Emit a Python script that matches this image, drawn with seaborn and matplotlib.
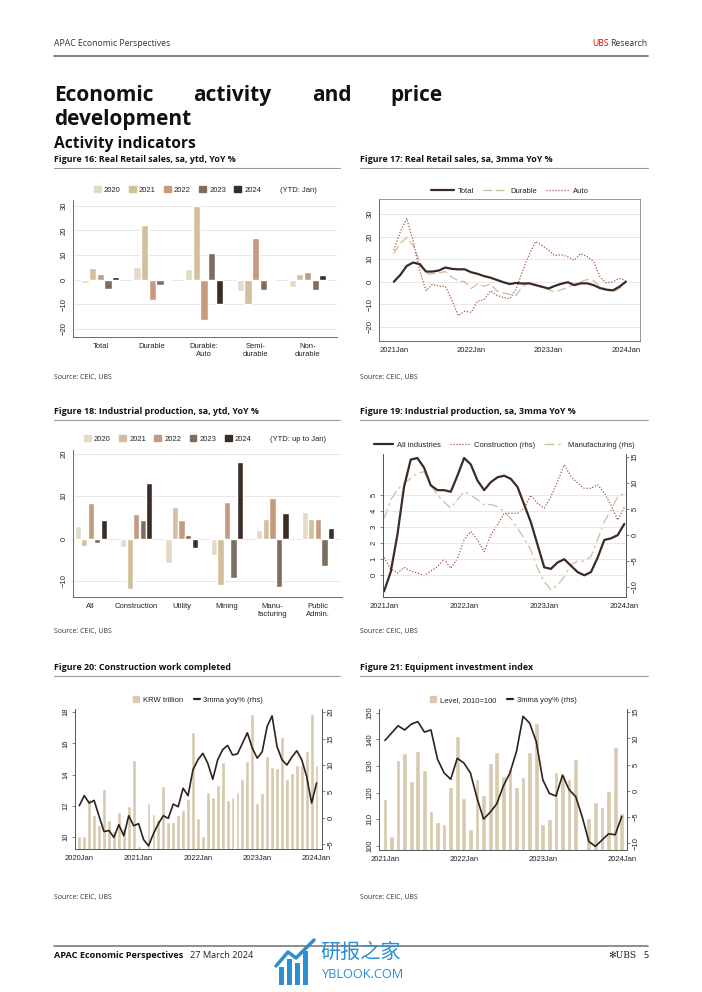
import numpy as np
import pandas as pd
import matplotlib
matplotlib.use("Agg")
import matplotlib.pyplot as plt
from matplotlib.patches import Patch, Rectangle
from matplotlib.lines import Line2D
import seaborn as sns

sns.set_theme(style="white")
plt.rcParams['font.family'] = ['Liberation Sans', 'DejaVu Sans']

# ---------------- data ----------------
years = ["2020", "2021", "2022", "2023", "2024"]

# Figure 16
cats16 = ["Total", "Durable", "Durable:\nAuto", "Semi-\ndurable", "Non-\ndurable"]
rs_2020 = [-1.5, 5.2, 4.5, -4.5, -3.0]
rs_2021 = [4.8, 22.2, 30.0, -10.0, 2.3]
rs_2022 = [2.2, -8.3, -16.5, 17.0, 3.0]
rs_2023 = [-3.8, -2.2, 10.8, -4.2, -4.2]
rs_2024 = [1.0, 0.2, -10.0, 0.4, 2.0]

# Figure 17 (monthly 2021Jan-2024Jan)
m17_labels = ["2021Jan", "2022Jan", "2023Jan", "2024Jan"]
rs_total = [0.0, 3.0, 7.0, 8.5, 7.8, 4.5, 4.5, 5.0, 6.3, 5.7, 5.5, 5.5, 4.2,
            3.5, 2.5, 1.8, 0.8, -0.2, -1.0, -0.5, -0.8, -0.7, -1.5, -2.2, -3.0,
            -1.8, -0.9, -0.2, -1.5, -0.7, -0.7, -1.5, -2.8, -3.5, -3.8, -2.2, 0.0]
rs_durable = [12.5, 17.0, 19.5, 16.0, 9.0, 3.5, 3.5, 4.0, 4.5, 2.0, 0.5, 0.0, -3.0,
              -1.0, -2.0, -1.0, -4.0, -5.0, -5.5, -6.0, -2.0, -0.5, -1.0, -2.5, -3.5,
              -4.5, -3.5, -2.5, -1.0, 0.0, 1.0, 0.5, -2.0, -3.5, -4.5, -3.0, 0.0]
rs_auto = [14.0, 22.0, 28.0, 18.0, 5.0, -4.0, -1.0, -2.0, -2.0, -8.0, -15.0, -13.0, -13.5,
           -8.5, -8.0, -4.0, -6.0, -7.0, -7.5, -3.0, 5.0, 12.0, 17.8, 16.0, 14.0,
           11.5, 12.0, 11.0, 9.5, 12.5, 11.0, 9.0, 2.0, -0.5, 0.0, 1.5, 0.5]

# Figure 18
cats18 = ["All", "Construction", "Utility", "Mining", "Manu-\nfacturing", "Public\nAdmin."]
ip_2020 = [3.0, -2.0, -5.8, -3.8, 2.0, 6.2]
ip_2021 = [-1.8, -12.0, 7.4, -11.0, 4.7, 4.7]
ip_2022 = [8.4, 5.8, 4.4, 8.7, 9.6, 4.6]
ip_2023 = [-1.0, 4.3, 0.8, -9.3, -11.5, -6.5]
ip_2024 = [4.4, 13.0, -2.2, 18.0, 6.0, 2.5]

# Figure 19 (monthly 2021Jan-2024Jan)
ip_all = [-1.0, 0.2, 2.5, 5.5, 7.2, 7.3, 6.7, 5.6, 5.3, 5.3, 5.2, 6.2, 7.3,
          6.9, 5.9, 5.3, 5.8, 6.1, 6.2, 6.0, 5.5, 4.4, 3.3, 1.9, 0.5,
          0.4, 0.8, 1.0, 0.6, 0.2, 0.0, 0.2, 1.1, 2.2, 2.3, 2.5, 3.2]
ip_constr = [-4.4, -6.6, -7.4, -6.3, -7.0, -7.4, -7.9, -7.0, -6.2, -4.7, -6.5, -4.6, -1.0,
             0.6, -1.0, -3.3, -0.1, 1.9, 4.1, 4.1, 4.1, 5.1, 7.6, 6.0, 5.1,
             7.3, 10.2, 13.4, 11.2, 9.9, 8.9, 8.9, 9.6, 8.0, 5.7, 2.8, 5.2]
ip_manuf = [3.1, 6.7, 8.6, 9.9, 10.8, 11.8, 12.1, 9.6, 7.6, 6.3, 5.1, 6.7, 8.3,
            7.6, 6.7, 5.7, 5.8, 5.4, 4.4, 3.1, 1.2, -0.7, -3.0, -6.5, -9.0,
            -10.6, -9.7, -8.1, -5.8, -5.1, -5.1, -4.2, -1.0, 2.5, 4.7, 7.3, 7.9]

# Figure 20 (monthly 2020Jan-2024Jan)
m20_labels = ["2020Jan", "2021Jan", "2022Jan", "2023Jan", "2024Jan"]
cw_level = [10.1, 10.1, 12.45, 11.4, 10.8, 13.1, 11.1, 10.4, 11.6, 10.6, 12.0, 14.95,
            9.45, 9.2, 12.2, 11.5, 11.15, 13.3, 11.0, 11.0, 11.4, 11.75, 12.45, 16.7,
            11.2, 10.1, 12.9, 12.55, 13.35, 14.8, 12.4, 12.6, 12.9, 13.7, 14.9, 17.9,
            12.2, 12.8, 15.2, 14.5, 14.4, 16.4, 13.7, 14.1, 14.6, 14.6, 15.5, 17.9,
            14.6]
cw_yoy = [2.3, 4.2, 2.8, 3.3, 0.3, -2.6, -2.4, -3.7, -1.3, -3.4, 0.4, -1.5,
          -1.1, -4.1, -5.3, -3.0, -1.1, 0.4, -0.1, 2.6, 2.1, 5.6, 4.2, 9.1,
          11.0, 12.2, 10.3, 7.3, 11.0, 12.9, 13.7, 11.9, 12.1, 14.1, 16.1, 13.2,
          11.3, 12.5, 17.3, 19.3, 13.5, 11.0, 10.0, 11.5, 12.7, 11.0, 7.8, 2.8,
          6.6]

# Figure 21 (monthly 2021Jan-2024Jan)
eq_level = [117.6, 103.9, 132.3, 135.0, 124.4, 135.6, 128.5, 113.3, 109.1, 108.1, 122.3, 141.4,
            117.9, 106.3, 125.1, 119.1, 131.0, 135.1, 126.3, 128.9, 122.3, 126.0, 135.4, 146.0,
            108.1, 110.0, 127.8, 126.5, 125.0, 132.6, 99.0, 110.4, 116.4, 114.5, 120.6, 137.3,
            112.3]
eq_yoy = [9.6, 11.0, 12.4, 11.6, 12.7, 13.2, 11.2, 11.6, 6.0, 3.4, 2.2, 6.2,
          5.3, 3.4, -1.4, -5.4, -4.1, -2.5, 0.9, 3.4, 7.5, 14.2, 12.9, 9.4,
          2.1, -0.5, -1.0, 3.0, 0.2, -1.1, -5.0, -9.7, -10.6, -9.4, -8.2, -8.4,
          -4.9]

# ---------------- style ----------------
W, H = 702, 992
fig = plt.figure(figsize=(W / 100, H / 100), dpi=100)
fig.patch.set_facecolor("white")

PAGE = ['Open Sans', 'DejaVu Sans']
year_cols = {"2020": "#e3dac8", "2021": "#d2bf9b", "2022": "#c69b7d",
             "2023": "#7d6e5f", "2024": "#3b2d25"}
DARK = "#3a2b24"
TAN = "#cdbd9e"
RED = "#a5574c"
BARC = "#d7caaf"
FS = 5.5


def add_ax(x0, y0, x1, y1):
    return fig.add_axes([x0 / W, 1 - y1 / H, (x1 - x0) / W, (y1 - y0) / H])


def txt(x, y, s, **kw):
    return fig.text(x / W, 1 - y / H, s, **kw)


def hline(x0, x1, y, color="#888888", lw=0.8):
    fig.add_artist(Line2D([x0 / W, x1 / W], [1 - y / H, 1 - y / H], color=color, lw=lw))


def style(ax, spines=("left", "bottom"), grid=True):
    for k, sp in ax.spines.items():
        sp.set_visible(k in spines)
        sp.set_color("#555555")
        sp.set_linewidth(0.6)
    ax.tick_params(axis="both", labelsize=FS, length=2.5, width=0.5, color="#555555",
                   pad=1.5, labelcolor="#222222", direction="out")
    ax.set_xlabel("")
    ax.set_ylabel("")
    if grid:
        ax.yaxis.grid(True, color="#e4e4e4", linewidth=0.6)
        ax.set_axisbelow(True)
    else:
        ax.grid(False)


def rot_y(ax):
    plt.setp(ax.get_yticklabels(), rotation=90, va="center")


def legend(handles, labels, cx, cy, **kw):
    opts = dict(loc="center", bbox_to_anchor=(cx / W, 1 - cy / H), frameon=False,
                fontsize=FS, ncol=len(handles), borderaxespad=0, borderpad=0)
    opts.update(kw)
    lg = fig.legend(handles, labels, **opts)
    for t in lg.get_texts():
        t.set_color("#222222")
    return lg


# ---------------- page text ----------------
txt(54, 44, "APAC Economic Perspectives", fontsize=6.2, family=PAGE, color="#333333", va="center")
txt(592, 44, "UBS", fontsize=6.2, family=PAGE, color="#e60000", va="center")
txt(647, 44, "Research", fontsize=6.2, family=PAGE, color="#333333", va="center", ha="right")
hline(54, 648, 56, color="#7a7a7a", lw=1.3)

for word, x in [("Economic", 54), ("activity", 193), ("and", 312), ("price", 390)]:
    txt(x, 101, word, fontsize=15, family=PAGE, weight="bold", color="#111111", va="baseline")
txt(54, 125, "development", fontsize=15, family=PAGE, weight="bold", color="#111111", va="baseline")
txt(54, 148, "Activity indicators", fontsize=11.2, family=PAGE, weight="bold", color="#111111", va="baseline")

fig_titles = [(54, 162.5, "Figure 16: Real Retail sales, sa, ytd, YoY %"),
              (360, 162.5, "Figure 17: Real Retail sales, sa, 3mma YoY %"),
              (54, 414, "Figure 18: Industrial production, sa, ytd, YoY %"),
              (360, 414, "Figure 19: Industrial production, sa, 3mma YoY %"),
              (54, 670, "Figure 20: Construction work completed"),
              (360, 670, "Figure 21: Equipment investment index")]
for x, y, s in fig_titles:
    txt(x, y, s, fontsize=6.4, family=PAGE, weight="bold", color="#111111", va="baseline")
    hline(x, x + 288 if x == 360 else 340, y + 5.5, color="#9a9a9a", lw=0.8)

for y in (377, 631, 897):
    for x in (54, 360):
        txt(x, y, "Source: CEIC, UBS", fontsize=5, family=PAGE, color="#333333", va="center")

# footer
hline(54, 648, 946, color="#7a7a7a", lw=1.2)
txt(54, 956, "APAC Economic Perspectives", fontsize=6.6, family=PAGE, weight="bold", color="#111111", va="center")
txt(190, 956, "27 March 2024", fontsize=6.6, family=PAGE, color="#222222", va="center")
txt(636, 956, "✻UBS", fontsize=6.6, family=['DejaVu Serif', 'DejaVu Sans', 'Noto Sans CJK SC'],
    color="#222222", va="center", ha="right")
txt(643, 956, "5", fontsize=6.6, family=PAGE, color="#222222", va="center")
# watermark
BLUE = "#2b8fd2"
for bx, bh in [(279, 18), (287, 26), (295, 22), (303, 34)]:
    fig.add_artist(Rectangle((bx / W, 1 - 985 / H), 5 / W, bh / H, color=BLUE, lw=0))
fig.add_artist(Line2D([276 / W, 288 / W, 296 / W, 314 / W],
                      [1 - 966 / H, 1 - 952 / H, 1 - 958 / H, 1 - 940 / H], color=BLUE, lw=2.5))
txt(320, 952, "研报之家", fontsize=14.5, family=['Noto Sans CJK SC', 'DejaVu Sans'], color=BLUE, va="center")
txt(321, 975, "YBLOOK.COM", fontsize=9.2, family=PAGE, color=BLUE, va="center")

# ---------------- Figure 16 ----------------
ax1 = add_ax(73, 200, 337, 337)
df16 = pd.DataFrame({"cat": cats16 * 5,
                     "year": sum([[y] * 5 for y in years], []),
                     "val": rs_2020 + rs_2021 + rs_2022 + rs_2023 + rs_2024})
sns.barplot(data=df16, x="cat", y="val", hue="year", order=cats16, hue_order=years,
            palette=year_cols, width=0.74, gap=0.05, saturation=1, errorbar=None,
            legend=False, ax=ax1)
style(ax1)
ax1.set_xlim(-0.53, 4.57)
ax1.set_ylim(-23.3, 32.4)
ax1.set_yticks([-20, -10, 0, 10, 20, 30])
rot_y(ax1)
legend([Patch(color=year_cols[y]) for y in years] + [Patch(facecolor="none", edgecolor="none")],
       years + ["(YTD: Jan)"], 205, 190, handlelength=0.9, handleheight=0.9,
       handletextpad=0.4, columnspacing=1.1)

# ---------------- Figure 17 ----------------
ax2 = add_ax(379, 199, 640, 341)
m37 = np.arange(37)
sns.lineplot(x=m37, y=rs_durable, ax=ax2, color=TAN, lw=0.9, linestyle=(0, (7, 3)))
sns.lineplot(x=m37, y=rs_auto, ax=ax2, color=RED, lw=0.9, linestyle=(0, (1, 1.4)))
sns.lineplot(x=m37, y=rs_total, ax=ax2, color=DARK, lw=1.6)
style(ax2, spines=("left", "bottom", "top", "right"))
ax2.spines["top"].set_color("#888888")
ax2.spines["right"].set_color("#888888")
ax2.set_xlim(-2.3, 38.2)
ax2.set_ylim(-26.2, 36.6)
ax2.set_yticks([-20, -10, 0, 10, 20, 30])
ax2.set_xticks([0, 12, 24, 36])
ax2.set_xticklabels(m17_labels)
rot_y(ax2)
legend([Line2D([], [], color=DARK, lw=1.6),
        Line2D([], [], color=TAN, lw=0.9, linestyle=(0, (7, 3))),
        Line2D([], [], color=RED, lw=0.9, linestyle=(0, (1, 1.4)))],
       ["Total", "Durable", "Auto"], 510, 191, handlelength=3.0, handletextpad=0.5,
       columnspacing=1.2)

# ---------------- Figure 18 ----------------
ax3 = add_ax(73, 450, 342, 597)
df18 = pd.DataFrame({"cat": cats18 * 5,
                     "year": sum([[y] * 6 for y in years], []),
                     "val": ip_2020 + ip_2021 + ip_2022 + ip_2023 + ip_2024})
sns.barplot(data=df18, x="cat", y="val", hue="year", order=cats18, hue_order=years,
            palette=year_cols, width=0.72, gap=0.05, saturation=1, errorbar=None,
            legend=False, ax=ax3)
style(ax3)
ax3.set_xlim(-0.39, 5.53)
ax3.set_ylim(-13.8, 20.9)
ax3.set_yticks([-10, 0, 10, 20])
rot_y(ax3)
legend([Patch(color=year_cols[y]) for y in years] + [Patch(facecolor="none", edgecolor="none")],
       years + ["(YTD: up to Jan)"], 205, 439, handlelength=0.9, handleheight=0.9,
       handletextpad=0.4, columnspacing=1.1)

# ---------------- Figure 19 ----------------
ax4 = add_ax(383, 454, 626, 597)
ax4r = ax4.twinx()
sns.lineplot(x=m37, y=ip_manuf, ax=ax4r, color=TAN, lw=0.9, linestyle=(0, (8, 3, 2, 3)))
sns.lineplot(x=m37, y=ip_constr, ax=ax4r, color=RED, lw=0.9, linestyle=(0, (1, 1.4)))
sns.lineplot(x=m37, y=ip_all, ax=ax4, color=DARK, lw=1.6)
ax4.set_zorder(ax4r.get_zorder() + 1)
ax4.patch.set_visible(False)
style(ax4, spines=("left", "bottom", "right"))
style(ax4r, spines=("left", "bottom", "right"), grid=False)
ax4.set_xlim(-0.15, 36.25)
ax4.set_ylim(-1.35, 7.55)
ax4r.set_ylim(-12.0, 15.5)
ax4.set_yticks([0, 1, 2, 3, 4, 5])
ax4r.set_yticks([-10, -5, 0, 5, 10, 15])
ax4.set_xticks([0, 12, 24, 36])
ax4.set_xticklabels(m17_labels)
rot_y(ax4)
rot_y(ax4r)
legend([Line2D([], [], color=DARK, lw=1.6),
        Line2D([], [], color=RED, lw=0.9, linestyle=(0, (1, 1.4))),
        Line2D([], [], color=TAN, lw=0.9, linestyle=(0, (8, 3, 2, 3)))],
       ["All industries", "Construction (rhs)", "Manufacturing (rhs)"], 504, 445,
       handlelength=2.6, handletextpad=0.5, columnspacing=1.2)

# ---------------- Figure 20 ----------------
ax5 = add_ax(75, 709, 322, 849)
m49 = np.arange(49)
sns.barplot(x=m49, y=cw_level, color=BARC, native_scale=True, width=0.78,
            saturation=1, errorbar=None, ax=ax5)
ax5r = ax5.twinx()
sns.lineplot(x=m49, y=cw_yoy, ax=ax5r, color="#2e221d", lw=1.2)
style(ax5, spines=("left", "bottom", "right"), grid=False)
style(ax5r, spines=("left", "bottom", "right"), grid=False)
ax5.set_xlim(-0.87, 49.1)
ax5.set_ylim(9.25, 18.2)
ax5r.set_ylim(-5.9, 20.6)
ax5.set_yticks([10, 12, 14, 16, 18])
ax5r.set_yticks([-5, 0, 5, 10, 15, 20])
ax5.set_xticks([0, 12, 24, 36, 48])
ax5.set_xticklabels(m20_labels)
rot_y(ax5)
rot_y(ax5r)
legend([Patch(color=BARC), Line2D([], [], color="#2e221d", lw=1.6)],
       ["KRW trillion", "3mma yoy% (rhs)"], 198, 700, handlelength=0.8, handleheight=0.8,
       handletextpad=0.5, columnspacing=1.4)

# ---------------- Figure 21 ----------------
ax6 = add_ax(379, 709, 627, 850)
sns.barplot(x=m37, y=eq_level, color=BARC, native_scale=True, width=0.72,
            saturation=1, errorbar=None, ax=ax6)
ax6r = ax6.twinx()
sns.lineplot(x=m37, y=eq_yoy, ax=ax6r, color="#2e221d", lw=1.2)
style(ax6, spines=("left", "bottom", "right"), grid=False)
style(ax6r, spines=("left", "bottom", "right"), grid=False)
ax6.set_xlim(-0.9, 36.8)
ax6.set_ylim(98.5, 151.4)
ax6r.set_ylim(-11.3, 15.6)
ax6.set_yticks([100, 110, 120, 130, 140, 150])
ax6r.set_yticks([-10, -5, 0, 5, 10, 15])
ax6.set_xticks([0, 12, 24, 36])
ax6.set_xticklabels(m17_labels)
rot_y(ax6)
rot_y(ax6r)
legend([Patch(color=BARC), Line2D([], [], color="#2e221d", lw=1.6)],
       ["Level, 2010=100", "3mma yoy% (rhs)"], 503, 700, handlelength=0.8, handleheight=0.8,
       handletextpad=0.5, columnspacing=1.4)

fig.savefig("out.png", dpi=100)
